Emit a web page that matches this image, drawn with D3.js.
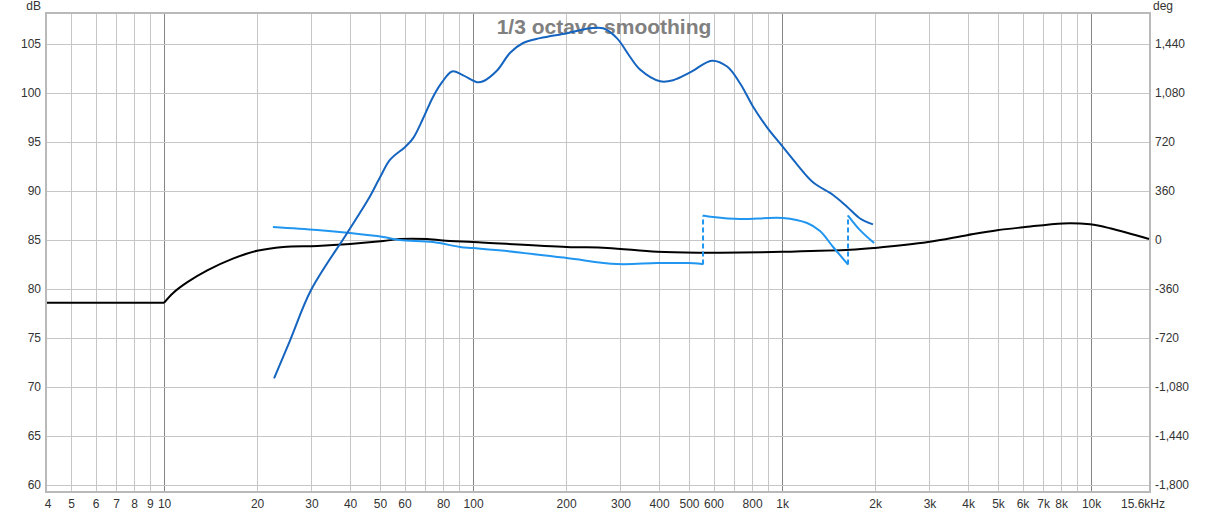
<!DOCTYPE html>
<html>
<head>
<meta charset="utf-8">
<script src="https://cdn.jsdelivr.net/npm/d3@7/dist/d3.min.js"></script>
<style>
  body { margin: 0; background: #fff; }
  text { font-family: "Liberation Sans", Arial, sans-serif; }
</style>
</head>
<body>
<svg id="chart" width="1207" height="512"></svg>
<script>
// frequency axis range (Hz)
var freqMin = 4.18, freqMax = 15400;

// black curve (dB, left axis)
var targetFreq = [4.18, 10, 10.7, 11.9, 13.8, 16.7, 20, 24.3, 31.3, 40, 51.2, 58, 71, 84.3, 100, 201, 272, 394, 555, 630, 1000, 1660, 2000, 2970, 3970, 4970, 6030, 8120, 9930, 11520, 15400];
var targetDb = [78.6, 78.6, 79.6, 80.7, 81.9, 83.1, 83.9, 84.3, 84.4, 84.6, 84.9, 85.1, 85.1, 84.9, 84.8, 84.3, 84.2, 83.8, 83.7, 83.7, 83.8, 84.0, 84.2, 84.8, 85.5, 86.0, 86.3, 86.7, 86.6, 86.2, 85.1];

// dark blue curve, SPL (dB, left axis)
var splFreq = [22.7, 25.6, 29.9, 39.1, 45.7, 50, 53.9, 60.3, 64, 68.9, 74.2, 79.4, 85.5, 92.9, 103, 107.8, 119.6, 131.8, 145.2, 164.8, 201.5, 239, 263.6, 292, 322, 347, 403, 444, 504, 593, 664, 731, 806, 894, 1000, 1119, 1259, 1463, 1623, 1788, 1969];
var splDb = [70.9, 74.8, 79.9, 85.7, 89.1, 91.4, 93.2, 94.5, 95.4, 97.4, 99.6, 101.1, 102.2, 101.8, 101.1, 101.2, 102.3, 104.1, 105.1, 105.6, 106.1, 106.6, 106.6, 105.6, 103.7, 102.4, 101.2, 101.3, 102.1, 103.3, 102.7, 101.0, 98.6, 96.5, 94.6, 92.7, 90.9, 89.6, 88.4, 87.2, 86.6];

// light blue curve, phase (deg, right axis), wrapped at +/-180
var phaseFreq = [22.5, 31.3, 40, 51.2, 58, 74.2, 90.8, 100, 128.8, 201, 292, 394, 493, 551, 555, 555, 598, 731, 1007, 1205, 1327, 1463, 1635, 1635, 1788, 1986];
var phaseDeg = [95, 73, 51, 22, 0, -15, -51, -59, -81, -132, -176, -169, -169, -176, -180, 180, 169, 154, 162, 125, 66, -51, -180, 180, 73, -22];

// axis ticks
var dbTicks = [60, 65, 70, 75, 80, 85, 90, 95, 100, 105];
var degTicks = [-1800, -1440, -1080, -720, -360, 0, 360, 720, 1080, 1440];
var freqTicks = [5, 6, 7, 8, 9, 10, 20, 30, 40, 50, 60, 80, 100, 200, 300, 400, 500, 600, 800, 1000, 2000, 3000, 4000, 5000, 6000, 7000, 8000, 10000];
var gridFreqs = [5, 6, 7, 8, 9, 10, 20, 30, 40, 50, 60, 70, 80, 90, 100, 200, 300, 400, 500, 600, 700, 800, 900, 1000, 2000, 3000, 4000, 5000, 6000, 7000, 8000, 9000, 10000];
var decadeFreqs = [10, 100, 1000, 10000];

var svg = d3.select("#chart");
var plotLeft = 47, plotRight = 1149, plotTop = 14, plotBottom = 491;

var x = d3.scaleLog().domain([freqMin, freqMax]).range([plotLeft, plotRight]);
var y = d3.scaleLinear().domain([59.4, 108.06]).range([plotBottom, plotTop]);
// phase axis: 360 deg per 5 dB, 0 deg at 85 dB
var yDeg = d3.scaleLinear().domain([(59.4 - 85) * 72, (108.06 - 85) * 72]).range([plotBottom, plotTop]);

// grid
var grid = svg.append("g");
grid.selectAll(".vg").data(gridFreqs).enter().append("line")
    .attr("x1", function (d) { return Math.round(x(d)) + 0.5; }).attr("x2", function (d) { return Math.round(x(d)) + 0.5; })
    .attr("y1", plotTop).attr("y2", plotBottom)
    .attr("stroke", function (d) { return decadeFreqs.indexOf(d) >= 0 ? "#858585" : "#c6c6c6"; })
    .attr("stroke-width", 1);
grid.selectAll(".hg").data(dbTicks).enter().append("line")
    .attr("x1", plotLeft).attr("x2", plotRight)
    .attr("y1", function (d) { return Math.round(y(d)) + 0.5; }).attr("y2", function (d) { return Math.round(y(d)) + 0.5; })
    .attr("stroke", "#c6c6c6").attr("stroke-width", 1);

// frame
svg.append("rect")
    .attr("x", plotLeft - 1).attr("y", plotTop - 1)
    .attr("width", plotRight - plotLeft + 2).attr("height", plotBottom - plotTop + 2)
    .attr("fill", "none").attr("stroke", "#b9b9b9").attr("stroke-width", 2);

// title
svg.append("text").attr("x", 604).attr("y", 34).attr("text-anchor", "middle")
    .attr("font-size", 21).attr("font-weight", "bold").attr("fill", "#808080")
    .text("1/3 octave smoothing");

// axes
function styleAxis(g) {
    g.select(".domain").remove();
    g.selectAll("text").attr("font-size", 12).attr("fill", "#333")
        .style("font-family", "'Liberation Sans', Arial, sans-serif");
}
svg.append("g").attr("transform", "translate(" + plotLeft + ",0)")
    .call(d3.axisLeft(y).tickValues(dbTicks).tickSize(0).tickPadding(6))
    .call(styleAxis);

var degFmt = d3.format(",");
svg.append("g").attr("transform", "translate(" + plotRight + ",0)")
    .call(d3.axisRight(yDeg).tickValues(degTicks).tickSize(0).tickPadding(6)
        .tickFormat(function (d) { return degFmt(d).replace("\u2212", "-"); }))
    .call(styleAxis);

function freqLabel(f) { return f >= 1000 ? (f / 1000) + "k" : String(f); }
var xAxis = svg.append("g").attr("transform", "translate(0," + plotBottom + ")")
    .call(d3.axisBottom(x).tickValues(freqTicks).tickSize(0).tickPadding(8).tickFormat(freqLabel))
    .call(styleAxis);
xAxis.append("text").attr("x", plotLeft + 1).attr("y", 8).attr("dy", "0.71em")
    .attr("text-anchor", "middle").attr("font-size", 12).attr("fill", "#333").text("4");
xAxis.append("text").attr("x", plotRight - 6).attr("y", 8).attr("dy", "0.71em")
    .attr("text-anchor", "middle").attr("font-size", 12).attr("fill", "#333").text("15.6kHz");

svg.append("text").attr("x", 41).attr("y", 10).attr("text-anchor", "end")
    .attr("font-size", 12).attr("fill", "#333").text("dB");
svg.append("text").attr("x", 1153).attr("y", 10)
    .attr("font-size", 12).attr("fill", "#333").text("deg");

// curves (smooth)
var smooth = d3.curveCatmullRom.alpha(0.5);
var lineDb = d3.line().curve(smooth)
    .x(function (d) { return x(d[0]); }).y(function (d) { return y(d[1]); });
var lineDeg = d3.line().curve(smooth)
    .x(function (d) { return x(d[0]); }).y(function (d) { return yDeg(d[1]); });

var curves = svg.append("g");

// black: flat part straight, rest smoothed
var target = d3.zip(targetFreq, targetDb);
curves.append("path").datum(target.slice(0, 2))
    .attr("d", d3.line().x(function (d) { return x(d[0]); }).y(function (d) { return y(d[1]); }))
    .attr("fill", "none").attr("stroke", "#000").attr("stroke-width", 2);
curves.append("path").datum(target.slice(1))
    .attr("d", lineDb).attr("fill", "none").attr("stroke", "#000").attr("stroke-width", 2);

// phase: split into segments at wrap points, joined by dashed verticals
var segs = [[]], jumps = [];
phaseFreq.forEach(function (f, i) {
    if (i > 0 && Math.abs(phaseDeg[i] - phaseDeg[i - 1]) > 300) {
        jumps.push([[phaseFreq[i - 1], phaseDeg[i - 1]], [f, phaseDeg[i]]]);
        segs.push([]);
    }
    segs[segs.length - 1].push([f, phaseDeg[i]]);
});
curves.selectAll(".ph").data(segs).enter().append("path")
    .attr("d", lineDeg).attr("fill", "none").attr("stroke", "#2196f0").attr("stroke-width", 2);
curves.selectAll(".jmp").data(jumps).enter().append("path")
    .attr("d", d3.line().x(function (d) { return x(d[0]); }).y(function (d) { return yDeg(d[1]); }))
    .attr("fill", "none").attr("stroke", "#2196f0").attr("stroke-width", 2)
    .attr("stroke-dasharray", "5,3");

curves.append("path").datum(d3.zip(splFreq, splDb))
    .attr("d", lineDb).attr("fill", "none").attr("stroke", "#1565c0").attr("stroke-width", 2);
</script>
</body>
</html>
